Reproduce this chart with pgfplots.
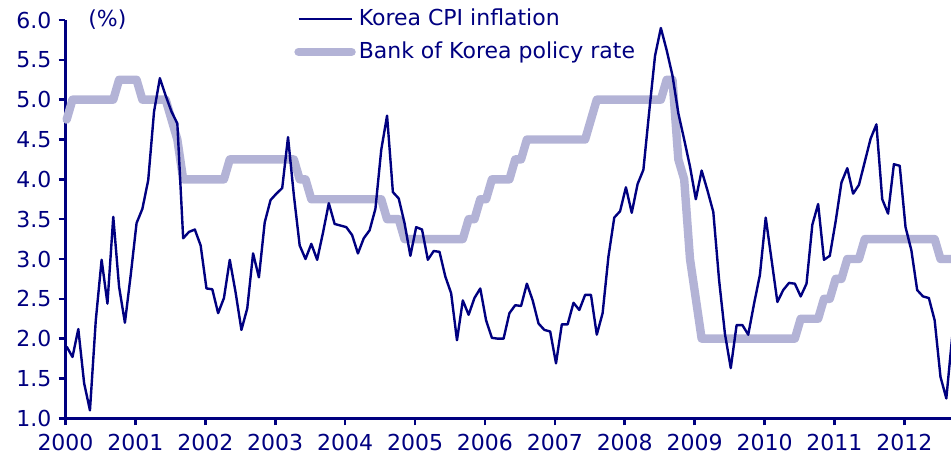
\documentclass[border=0pt]{standalone}
\usepackage{fontspec}
\setmainfont{DejaVu Sans}
\usepackage{pgfplots}
\usepackage{pgfplotstable}
\pgfplotsset{compat=1.18}
\definecolor{navy}{RGB}{0,0,128}
\definecolor{policy}{RGB}{179,179,214}

% m = months since Jan 2000; cpi = Korea CPI inflation (%); rate = BOK policy rate (%)
\pgfplotstableread{
m cpi rate
0 1.90 4.75
1 1.77 5.00
2 2.12 5.00
3 1.44 5.00
4 1.10 5.00
5 2.23 5.00
6 2.99 5.00
7 2.44 5.00
8 3.53 5.00
9 2.65 5.25
10 2.20 5.25
11 2.80 5.25
12 3.45 5.25
13 3.63 5.00
14 3.99 5.00
15 4.85 5.00
16 5.27 5.00
17 5.05 5.00
18 4.85 4.75
19 4.70 4.50
20 3.26 4.00
21 3.34 4.00
22 3.37 4.00
23 3.17 4.00
24 2.63 4.00
25 2.62 4.00
26 2.32 4.00
27 2.51 4.00
28 2.99 4.25
29 2.58 4.25
30 2.11 4.25
31 2.38 4.25
32 3.07 4.25
33 2.77 4.25
34 3.46 4.25
35 3.74 4.25
36 3.82 4.25
37 3.89 4.25
38 4.53 4.25
39 3.80 4.25
40 3.17 4.00
41 3.00 4.00
42 3.19 3.75
43 2.99 3.75
44 3.33 3.75
45 3.70 3.75
46 3.44 3.75
47 3.42 3.75
48 3.40 3.75
49 3.30 3.75
50 3.07 3.75
51 3.26 3.75
52 3.36 3.75
53 3.63 3.75
54 4.37 3.75
55 4.80 3.50
56 3.84 3.50
57 3.76 3.50
58 3.45 3.25
59 3.04 3.25
60 3.40 3.25
61 3.37 3.25
62 2.99 3.25
63 3.10 3.25
64 3.09 3.25
65 2.78 3.25
66 2.57 3.25
67 1.98 3.25
68 2.48 3.25
69 2.30 3.50
70 2.51 3.50
71 2.63 3.75
72 2.23 3.75
73 2.01 4.00
74 2.00 4.00
75 2.00 4.00
76 2.32 4.00
77 2.42 4.25
78 2.41 4.25
79 2.69 4.50
80 2.48 4.50
81 2.19 4.50
82 2.11 4.50
83 2.09 4.50
84 1.69 4.50
85 2.18 4.50
86 2.18 4.50
87 2.45 4.50
88 2.36 4.50
89 2.55 4.50
90 2.55 4.75
91 2.05 5.00
92 2.32 5.00
93 3.03 5.00
94 3.52 5.00
95 3.60 5.00
96 3.90 5.00
97 3.58 5.00
98 3.94 5.00
99 4.12 5.00
100 4.85 5.00
101 5.55 5.00
102 5.90 5.00
103 5.62 5.25
104 5.30 5.25
105 4.83 4.25
106 4.50 4.00
107 4.16 3.00
108 3.75 2.50
109 4.11 2.00
110 3.86 2.00
111 3.59 2.00
112 2.73 2.00
113 2.06 2.00
114 1.63 2.00
115 2.17 2.00
116 2.17 2.00
117 2.05 2.00
118 2.44 2.00
119 2.80 2.00
120 3.52 2.00
121 2.99 2.00
122 2.46 2.00
123 2.61 2.00
124 2.70 2.00
125 2.69 2.00
126 2.53 2.25
127 2.69 2.25
128 3.43 2.25
129 3.69 2.25
130 2.99 2.50
131 3.04 2.50
132 3.47 2.75
133 3.96 2.75
134 4.14 3.00
135 3.82 3.00
136 3.93 3.00
137 4.22 3.25
138 4.51 3.25
139 4.69 3.25
140 3.75 3.25
141 3.57 3.25
142 4.19 3.25
143 4.17 3.25
144 3.40 3.25
145 3.11 3.25
146 2.61 3.25
147 2.53 3.25
148 2.51 3.25
149 2.23 3.25
150 1.52 3.00
151 1.25 3.00
152 2.02 3.00
}\korea

\begin{document}
\begin{tikzpicture}
\begin{axis}[
    scale only axis,
    width=442.75pt, height=199.15pt,
    at={(0,0)}, anchor=south west,
    xmin=2000, xmax=2012.667,
    ymin=1, ymax=6,
    xtick={2000,2001,...,2012},
    ytick={1,1.5,...,6},
    axis x line*=bottom, axis y line*=left,
    axis line style={navy, line width=1.3pt},
    tick align=outside, major tick length=3.5pt,
    tick style={navy, line width=1.3pt},
    tick label style={font=\fontsize{11}{13}\selectfont, text=navy},
    /pgf/number format/assume math mode=true,
    xticklabel style={/pgf/number format/1000 sep={}, yshift=-1pt},
    yticklabel style={/pgf/number format/.cd, fixed, fixed zerofill, precision=1},
    clip=false,
    legend style={at={(rel axis cs:0.2580,1.036)}, anchor=north west,
        draw=none, fill=none, inner sep=0pt, row sep=3.6pt,
        nodes={inner sep=1.5pt},
        font=\fontsize{11}{13}\selectfont, text=navy,
        cells={anchor=west},
        /tikz/every odd column/.append style={column sep=0pt}},
    legend image code/.code={\draw[#1] (0pt,0pt) -- (26.5pt,0pt);},
]
\addlegendimage{navy, line width=1.2pt}
\addlegendentry{Korea CPI inflation}
\addlegendimage{policy, line width=4.2pt, line cap=round}
\addlegendentry{Bank of Korea policy rate}

\addplot[policy, line width=4.2pt, line cap=round, line join=round, forget plot]
    table[x expr=2000+(\thisrow{m}+0.2)/12, y=rate] {\korea};
\addplot[navy, line width=1.2pt, line join=round, forget plot]
    table[x expr=2000+(\thisrow{m}+0.2)/12, y=cpi] {\korea};

\node[anchor=west, text=navy, font=\fontsize{11}{13}\selectfont, inner sep=0pt]
    at (rel axis cs:0.0254,1.0) {(\%)};
\end{axis}
\pgfresetboundingbox
\path (-32.75pt,-21.85pt) rectangle (442.75pt,209.15pt);
\end{tikzpicture}
\end{document}
